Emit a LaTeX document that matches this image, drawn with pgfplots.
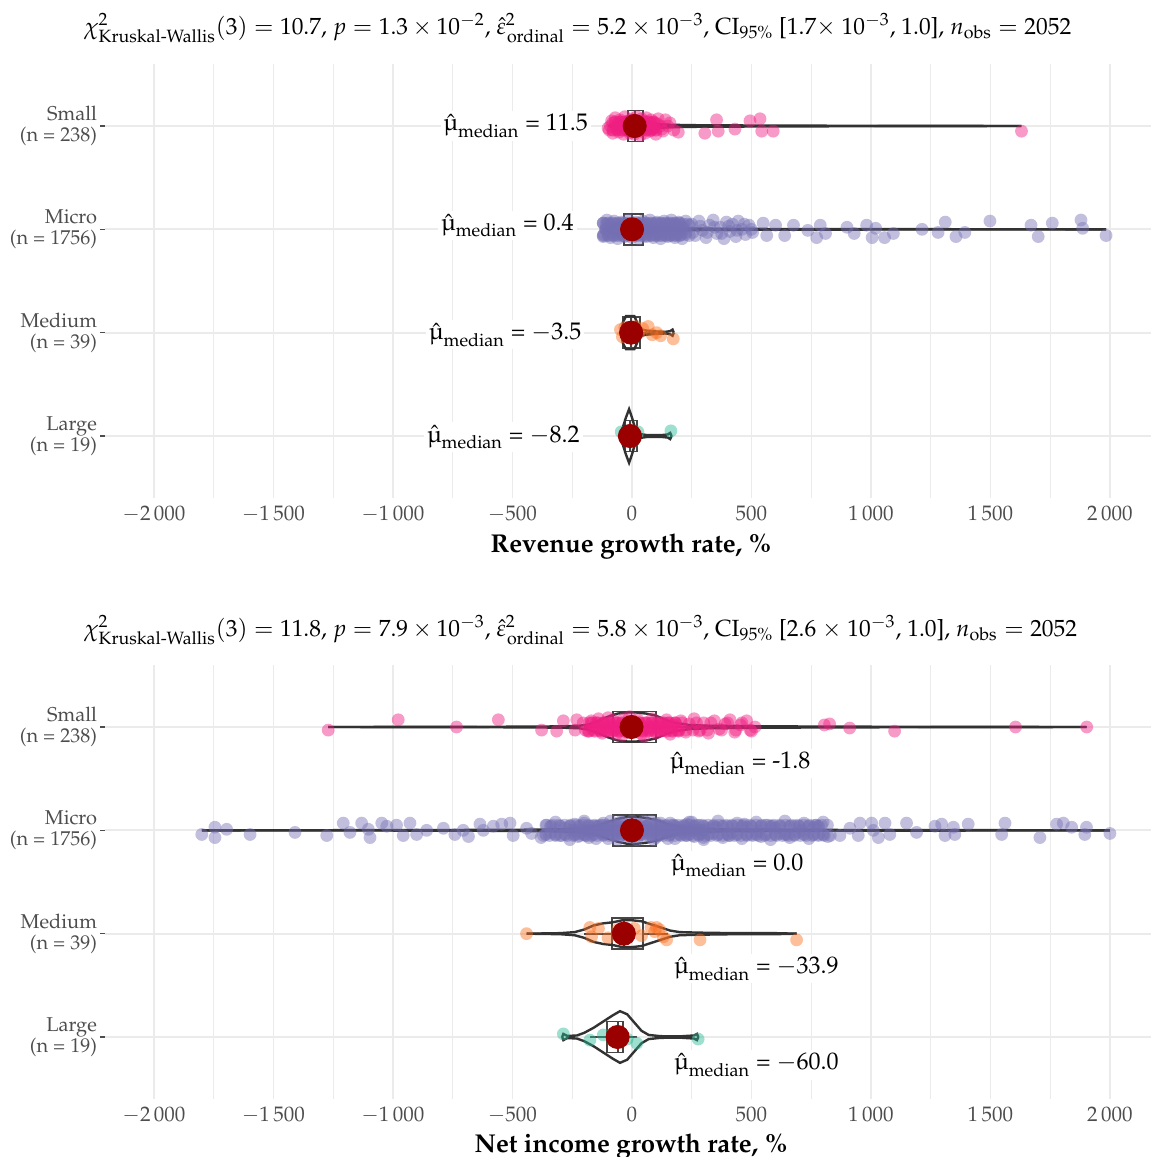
\documentclass[border=0pt]{standalone}
\usepackage[T1]{fontenc}
\usepackage{mathpazo}
\usepackage{amsmath}
\usepackage{textcomp}
\usepackage{pgfplots}
\usepackage{pgfplotstable}
\pgfplotsset{compat=1.18}
\usepgfplotslibrary{statistics}

\definecolor{cSmall}{RGB}{240,30,130}
\definecolor{cMicro}{RGB}{117,112,179}
\definecolor{cMedium}{RGB}{250,110,30}
\definecolor{cLarge}{RGB}{40,185,150}
\definecolor{dotred}{RGB}{155,0,0}
\definecolor{gridgray}{RGB}{235,235,235}
\definecolor{labgray}{RGB}{77,77,77}
\definecolor{vio}{RGB}{50,50,50}
\definecolor{boxc}{RGB}{70,70,70}

\newcommand{\mumed}{$\hat{\hbox{\textmu}}_{\mathrm{median}}$}

\tikzset{mlab/.style={fill=white, inner sep=1.5pt, font=\fontsize{12}{14}\selectfont}}

\pgfplotsset{
  panel/.style={
    scale only axis, width=523pt, height=217pt,
    xmin=-2205, xmax=2172, ymin=0.4, ymax=4.6,
    axis line style={draw=none},
    xtick={-2000,-1500,...,2000},
    minor xtick={-1750,-1250,...,1750},
    xmajorgrids, xminorgrids, ymajorgrids,
    major grid style={gridgray, line width=0.9pt},
    minor grid style={gridgray, line width=0.6pt},
    ytick={1,2,3,4},
    yticklabels={{Large\\(n = 19)},{Medium\\(n = 39)},{Micro\\(n = 1756)},{Small\\(n = 238)}},
    xtick style={draw=none},
    ytick style={labgray, line width=0.8pt},
    xtick pos=bottom, ytick pos=left,
    tick align=outside, major tick length=2.5pt,
    yticklabel style={align=right, text=labgray, xshift=2pt, font=\fontsize{10}{10.5}\selectfont},
    xticklabel style={text=labgray, yshift=2pt, font=\fontsize{10.5}{12}\selectfont},
    /pgf/number format/1000 sep={\,},
    clip=false,
  },
  pts/.style={only marks, mark=*, mark size=3.2pt, color=#1,
    mark options={solid, draw=#1, draw opacity=0, fill=#1, fill opacity=0.45}},
  core/.style={only marks, mark=*, mark size=3.2pt, color=#1,
    mark options={solid, draw=#1, draw opacity=0, fill=#1, fill opacity=0.6}},
  vln/.style={draw=vio, line width=1.2pt, no marks},
  bx/.style={boxplot/draw direction=x, boxplot/box extend=0.3,
    boxplot/whisker extend=0, draw=boxc, line width=0.9pt, solid},
  med/.style={only marks, mark=*, mark size=5.8pt, color=dotred,
    mark options={draw=dotred, fill=dotred}},
}

% violin half-widths (x, w)
\pgfplotstableread{
x w
-95 0
-80 0.01
-60 0.03
-40 0.06
-20 0.09
0 0.10
20 0.10
40 0.08
60 0.05
80 0.03
110 0.018
160 0.012
250 0.008
400 0.006
600 0.004
1000 0.002
1630 0
}\vTopSmall
\pgfplotstableread{
x w
-110 0
-90 0.02
-60 0.05
-30 0.07
0 0.07
30 0.05
60 0.03
100 0.015
200 0.008
500 0.004
1000 0.002
1984 0
}\vTopMicro
\pgfplotstableread{
x w
-45 0
-38 0.10
-25 0.16
10 0.16
25 0.08
40 0.03
60 0.02
100 0.012
140 0.008
160 0.015
170 0.03
175 0
}\vTopMedium
\pgfplotstableread{
x w
-55 0
-40 0.07
-25 0.18
-12 0.26
0 0.18
15 0.06
30 0.02
60 0.01
120 0.008
150 0.015
160 0.03
166 0
}\vTopLarge
\pgfplotstableread{
x w
-1271 0
-600 0.002
-300 0.006
-220 0.012
-180 0.025
-140 0.06
-100 0.10
-60 0.13
-20 0.14
20 0.14
60 0.13
100 0.11
140 0.07
180 0.04
240 0.02
320 0.012
500 0.008
800 0.004
1200 0.002
1903 0
}\vBotSmall
\pgfplotstableread{
x w
-1800 0
-1000 0.002
-500 0.005
-300 0.01
-200 0.02
-150 0.04
-100 0.08
-60 0.11
-20 0.13
20 0.13
60 0.12
100 0.10
150 0.06
200 0.03
270 0.015
400 0.008
800 0.004
1400 0.002
2000 0
}\vBotMicro
\pgfplotstableread{
x w
-441 0
-300 0.005
-240 0.015
-200 0.04
-160 0.08
-120 0.10
-80 0.11
-40 0.13
0 0.13
40 0.12
80 0.09
120 0.06
160 0.03
200 0.015
280 0.01
400 0.006
600 0.005
689 0
}\vBotMedium
\pgfplotstableread{
x w
-292 0
-287 0.03
-270 0.01
-230 0.015
-200 0.04
-160 0.09
-120 0.15
-80 0.21
-50 0.25
-20 0.22
10 0.14
40 0.06
70 0.02
120 0.008
200 0.006
260 0.015
272 0.03
278 0
}\vBotLarge

\begin{document}
\begin{tikzpicture}
% ---------------- top panel ----------------
\begin{axis}[panel, at={(0,0)}, anchor=north west]
\addplot[pts=cSmall] coordinates {
(-100,3.98)(-85,4.05)(-80,3.93)(-70,4.08)(-65,4.0)(-55,3.94)(-50,4.06)(-40,4.02)
(-35,3.92)(-30,4.09)(-20,3.97)(-15,4.05)(-10,3.93)(0,4.07)(5,4.0)(10,3.92)(15,4.04)
(20,4.09)(25,3.96)(30,4.02)(35,3.91)(40,4.07)(45,3.99)(50,4.05)(55,3.93)(60,4.08)
(70,4.0)(75,3.95)(80,4.06)(90,3.97)(95,4.03)(100,3.92)(110,4.07)(120,4.0)(130,3.95)
(140,4.06)(150,4.0)(159,4.03)(175,3.96)(194,3.94)
(-90,4.0)(-60,4.02)(-25,3.99)(0,3.96)(25,4.03)(55,4.0)(85,3.98)
(-95,3.96)(-80,4.03)(-62,3.97)(-45,4.04)(-28,3.96)(-12,4.03)(3,3.95)(18,4.02)(33,3.96)
(48,4.03)(63,3.97)(78,4.03)(93,3.98)(108,4.02)(125,3.97)(-50,3.99)(-20,4.01)(10,3.99)
(40,4.01)(70,3.99)
(305,3.93)(354,4.06)(361,3.95)(431,3.97)(494,4.05)(536,4.07)(543,3.95)(591,3.95)(1630,3.95)};
\addplot[core=cSmall] coordinates {
(-80,3.96)(-60,3.96)(-40,3.96)(-20,3.96)(0,3.96)(20,3.96)(40,3.96)(60,3.96)(80,3.96)(100,3.96)
(-70,4.04)(-50,4.04)(-30,4.04)(-10,4.04)(10,4.04)(30,4.04)(50,4.04)(70,4.04)(90,4.04)};
\addplot[pts=cMicro] coordinates {
(-120,2.93)(-120,3.06)(-105,2.99)(-105,3.09)(-90,2.92)(-90,3.03)(-75,2.97)(-75,3.08)
(-60,2.91)(-60,3.02)(-45,2.96)(-45,3.07)(-30,2.93)(-30,3.04)(-15,2.98)(-15,3.09)
(0,2.92)(0,3.03)(15,2.96)(15,3.07)(30,2.91)(30,3.02)(45,2.97)(45,3.08)
(60,2.93)(60,3.05)(75,2.98)(75,3.09)(90,2.92)(90,3.03)(105,2.96)(105,3.07)
(120,2.91)(120,3.02)(135,2.97)(135,3.08)(150,2.93)(150,3.05)(165,2.98)(165,3.09)
(180,2.92)(180,3.03)(195,2.96)(195,3.07)(210,2.91)(210,3.02)(225,2.97)(225,3.08)
(240,2.94)(240,3.04)
(-110,3.0)(-80,3.0)(-50,3.0)(-20,3.0)(10,3.0)(40,3.0)(70,3.0)(100,2.99)(130,3.01)
(160,3.0)(190,2.99)(220,3.0)
(-118,2.95)(-100,2.95)(-82,2.95)(-64,2.95)(-46,2.95)(-28,2.95)(-10,2.95)(8,2.95)(26,2.95)
(44,2.95)(62,2.95)(80,2.95)(98,2.95)(116,2.95)(134,2.95)(152,2.95)(170,2.95)(188,2.95)
(206,2.95)(224,2.95)
(-109,3.05)(-91,3.05)(-73,3.05)(-55,3.05)(-37,3.05)(-19,3.05)(-1,3.05)(17,3.05)(35,3.05)
(53,3.05)(71,3.05)(89,3.05)(107,3.05)(125,3.05)(143,3.05)(161,3.05)(179,3.05)(197,3.05)
(215,3.05)(233,3.05)
(-95,2.98)(-70,3.02)(-45,2.98)(-20,3.02)(5,2.98)(30,3.02)(55,2.98)(80,3.02)(105,2.98)
(250,3.05)(265,2.94)(280,3.08)(295,2.99)(310,2.92)(325,3.04)(340,3.09)(355,2.96)
(370,3.02)(385,2.91)(395,3.07)(410,2.98)(420,3.05)(435,2.93)(445,3.08)(460,3.0)
(475,2.95)(490,3.04)(505,2.97)
(255,2.97)(285,3.03)(315,2.97)(345,3.02)(375,2.96)(405,3.03)(440,2.99)(470,3.05)(500,3.0)
(549,3.06)(564,2.94)(601,3.04)(639,2.94)(676,3.04)(736,2.99)(773,2.92)(788,3.04)
(810,2.96)(900,3.02)(930,2.96)(982,3.04)(1005,2.92)(1020,3.01)(1057,2.92)(1094,2.96)
(1214,3.0)(1281,2.97)(1311,3.07)(1356,2.93)(1393,2.97)(1498,3.08)(1670,3.04)(1700,2.93)
(1759,3.06)(1879,3.09)(1886,3.01)(1984,2.94)};
\addplot[core=cMicro] coordinates {
(-120,2.94)(-100,2.94)(-80,2.94)(-60,2.94)(-40,2.94)(-20,2.94)(0,2.94)(20,2.94)(40,2.94)
(60,2.94)(80,2.94)(100,2.94)(120,2.94)(140,2.94)(160,2.94)(180,2.94)(200,2.94)
(-110,3.0)(-90,3.0)(-70,3.0)(-50,3.0)(-30,3.0)(-10,3.0)(10,3.0)(30,3.0)(50,3.0)(70,3.0)
(90,3.0)(110,3.0)(130,3.0)(150,3.0)(170,3.0)(190,3.0)(210,3.0)
(-120,3.06)(-100,3.06)(-80,3.06)(-60,3.06)(-40,3.06)(-20,3.06)(0,3.06)(20,3.06)(40,3.06)
(60,3.06)(80,3.06)(100,3.06)(120,3.06)(140,3.06)(160,3.06)(180,3.06)(200,3.06)};
\addplot[pts=cMedium] coordinates {
(-48,2.03)(-40,1.96)(-30,2.05)(-20,1.97)(-10,2.02)(5,1.95)(15,2.06)(30,2.0)(45,2.04)
(68,2.06)(85,1.98)(103,2.0)(120,1.97)(173,1.94)};
\addplot[pts=cLarge] coordinates {
(-45,1.04)(-20,0.97)(0,1.02)(10,0.96)(25,1.04)(163,1.05)};
% boxes
\addplot[bx, boxplot prepared={draw position=4, lower whisker=-100, lower quartile=-15,
  median=11.5, upper quartile=45, upper whisker=130}] coordinates {};
\addplot[bx, boxplot prepared={draw position=3, lower whisker=-120, lower quartile=-32,
  median=0.4, upper quartile=45, upper whisker=160}] coordinates {};
\addplot[bx, boxplot prepared={draw position=2, lower whisker=-48, lower quartile=-37,
  median=-3.5, upper quartile=33, upper whisker=120}] coordinates {};
\addplot[bx, boxplot prepared={draw position=1, lower whisker=-50, lower quartile=-30,
  median=-8.2, upper quartile=20, upper whisker=20}] coordinates {};
% violins
\addplot[vln] table[x=x, y expr=4+\thisrow{w}] {\vTopSmall};
\addplot[vln] table[x=x, y expr=4-\thisrow{w}] {\vTopSmall};
\addplot[vln] table[x=x, y expr=3+\thisrow{w}] {\vTopMicro};
\addplot[vln] table[x=x, y expr=3-\thisrow{w}] {\vTopMicro};
\addplot[vln] table[x=x, y expr=2+\thisrow{w}] {\vTopMedium};
\addplot[vln] table[x=x, y expr=2-\thisrow{w}] {\vTopMedium};
\addplot[vln] table[x=x, y expr=1+\thisrow{w}] {\vTopLarge};
\addplot[vln] table[x=x, y expr=1-\thisrow{w}] {\vTopLarge};
% medians
\addplot[med] coordinates {(11.5,4)(0.4,3)(-3.5,2)(-8.2,1)};
\node[mlab, anchor=east] at (axis cs:-170,4) {\mumed\ = 11.5};
\node[mlab, anchor=east] at (axis cs:-230,3.04) {\mumed\ = 0.4};
\node[mlab, anchor=east] at (axis cs:-197,1.98) {\mumed\ = $-$3.5};
\node[mlab, anchor=east] at (axis cs:-205,0.99) {\mumed\ = $-$8.2};
\node[anchor=west, font=\fontsize{11.7}{14}\selectfont] at (rel axis cs:0,1) [xshift=-14pt, yshift=18pt]
  {$\chi^2_{\text{Kruskal-Wallis}}(3) = 10.7$, $p = 1.3\times10^{-2}$, $\hat{\varepsilon}^2_{\mathrm{ordinal}} = 5.2\times10^{-3}$, CI$_{95\%}$ [1.7$\times$ 10$^{-3}$, 1.0], $n_{\mathrm{obs}} = 2052$};
\node[font=\fontsize{12.9}{14}\bfseries] at (rel axis cs:0.503,0) [yshift=-24pt] {Revenue growth rate, \%};
\end{axis}

% ---------------- bottom panel ----------------
\begin{axis}[panel, at={(0,-300.5pt)}, anchor=north west]
\addplot[pts=cSmall] coordinates {
(-1271,3.97)(-978,4.07)(-734,4.0)(-559,4.07)(-378,3.97)(-315,3.96)(-287,4.06)(-238,3.97)(-231,4.07)
(-204,4.04)(-185,3.96)(-170,4.06)(-150,3.99)(-140,4.08)(-125,3.94)(-110,4.04)(-95,3.97)
(-80,4.07)(-65,3.93)(-50,4.02)(-35,4.08)(-20,3.95)(-5,4.04)(10,3.97)(25,4.07)(40,3.93)
(55,4.03)(70,3.98)(85,4.08)(100,3.94)(115,4.04)(130,3.97)(145,4.07)(160,3.93)(175,4.02)
(190,3.97)(205,4.06)(225,3.95)(240,4.03)(260,4.08)(280,3.96)(300,4.04)(320,3.94)(345,4.06)
(365,3.98)(390,4.03)(410,4.07)(430,3.95)(455,4.02)(480,4.06)(500,3.96)(515,4.0)
(-130,4.0)(-100,4.09)(-70,3.98)(-40,3.92)(-10,4.1)(20,4.0)(50,3.91)(80,4.0)(110,3.99)(140,4.0)
(-195,3.97)(-165,3.97)(-135,3.97)(-105,3.97)(-75,3.97)(-45,3.97)(-15,3.97)(15,3.97)(45,3.97)
(75,3.97)(105,3.97)(135,3.97)(165,3.97)(195,3.97)(225,3.97)(255,3.97)(285,3.97)(315,3.97)
(375,3.97)(435,3.97)(495,3.97)
(-180,4.04)(-150,4.04)(-120,4.04)(-90,4.04)(-60,4.04)(-30,4.04)(0,4.04)(30,4.04)(60,4.04)
(90,4.04)(120,4.04)(150,4.04)(180,4.04)(210,4.04)(270,4.04)(330,4.04)(400,4.04)(460,4.04)
(-105,4.0)(-75,4.0)(-45,4.0)(-15,4.0)(15,4.0)(45,4.0)(75,4.0)(105,4.0)(135,4.0)
(805,4.02)(827,4.03)(911,3.99)(1099,3.96)(1605,4.0)(1903,4.0)};
\addplot[core=cSmall] coordinates {
(-180,3.96)(-155,3.96)(-130,3.96)(-105,3.96)(-80,3.96)(-55,3.96)(-30,3.96)(-5,3.96)(20,3.96)
(45,3.96)(70,3.96)(95,3.96)(120,3.96)(145,3.96)(170,3.96)(195,3.96)
(-168,4.04)(-143,4.04)(-118,4.04)(-93,4.04)(-68,4.04)(-43,4.04)(-18,4.04)(7,4.04)(32,4.04)
(57,4.04)(82,4.04)(107,4.04)(132,4.04)(157,4.04)(182,4.04)};
\addplot[pts=cMicro] coordinates {
(-1800,2.96)(-1745,3.03)(-1745,2.93)(-1696,3.01)(-1598,2.96)(-1410,2.98)(-1277,2.95)
(-1208,3.07)(-1180,2.98)(-1131,3.07)(-1103,3.01)(-1096,2.93)(-1047,3.07)(-1026,3.04)
(-985,3.05)(-957,2.95)(-929,3.07)(-901,2.96)(-859,3.0)(-789,3.02)(-741,2.96)(-706,3.0)
(-684,2.94)(-636,3.06)(-622,3.0)(-580,3.04)(-545,3.06)(-510,3.07)(-497,2.95)(-441,3.02)(-420,2.97)
(-380,2.93)(-360,3.05)(-340,2.98)(-320,3.08)(-300,2.95)(-280,3.02)(-260,2.91)(-240,3.06)
(-220,2.97)(-200,3.09)(-180,2.93)(-160,3.04)(-140,2.99)(-120,3.07)(-100,2.92)(-80,3.03)
(-60,2.96)(-40,3.08)(-20,2.94)(0,3.05)(20,2.91)(40,3.02)(60,2.97)(80,3.09)
(100,2.93)(120,3.04)(140,2.98)(160,3.07)(180,2.92)(200,3.03)(220,2.96)(240,3.08)
(260,2.94)(280,3.05)(300,2.91)(320,3.02)(340,2.97)(360,3.09)(380,2.93)(400,3.04)
(420,2.98)(440,3.07)(460,2.92)(480,3.03)(500,2.96)(520,3.08)(540,2.94)(560,3.05)
(580,2.91)(600,3.02)(620,2.97)(640,3.09)(660,2.93)(680,3.04)(700,2.98)(720,3.07)
(740,2.92)(760,3.03)(780,2.96)(800,3.08)(820,2.94)
(-250,3.0)(-225,2.94)(-200,3.07)(-175,2.99)(-150,2.92)(-125,3.05)(-100,3.0)(-75,2.95)
(-50,3.08)(-25,3.0)(0,2.93)(25,3.06)(50,3.0)(75,2.94)(100,3.07)(125,2.99)(150,2.92)
(175,3.05)(200,3.0)(225,2.95)(250,3.08)(275,3.0)(300,2.93)
(-150,3.04)(-120,2.97)(-90,3.09)(-60,2.91)(-30,3.02)(0,3.09)(30,2.96)(60,3.04)(90,2.91)
(120,3.07)(150,2.98)
(-190,2.95)(-130,3.0)(-70,3.05)(-10,2.96)(50,3.09)(110,2.95)(170,3.01)(230,3.06)(290,2.97)
(350,3.03)(410,2.95)(470,3.06)(530,2.99)(590,3.04)(650,2.96)(710,3.0)(770,3.05)
(-370,2.95)(-345,2.95)(-320,2.95)(-295,2.95)(-270,2.95)(-245,2.95)(-220,2.95)(-195,2.95)
(-170,2.95)(-145,2.95)(-120,2.95)(-95,2.95)(-70,2.95)(-45,2.95)(-20,2.95)(5,2.95)(30,2.95)
(55,2.95)(80,2.95)(105,2.95)(130,2.95)(155,2.95)(180,2.95)(205,2.95)(230,2.95)(255,2.95)
(280,2.95)(305,2.95)(330,2.95)(355,2.95)(380,2.95)(405,2.95)(430,2.95)(455,2.95)(480,2.95)
(505,2.95)(530,2.95)(555,2.95)(580,2.95)(605,2.95)(630,2.95)(655,2.95)(680,2.95)(705,2.95)
(730,2.95)(755,2.95)(780,2.95)(805,2.95)(830,2.95)
(-357,3.05)(-332,3.05)(-307,3.05)(-282,3.05)(-257,3.05)(-232,3.05)(-207,3.05)(-182,3.05)
(-157,3.05)(-132,3.05)(-107,3.05)(-82,3.05)(-57,3.05)(-32,3.05)(-7,3.05)(18,3.05)(43,3.05)
(68,3.05)(93,3.05)(118,3.05)(143,3.05)(168,3.05)(193,3.05)(218,3.05)(243,3.05)(268,3.05)
(293,3.05)(318,3.05)(343,3.05)(368,3.05)(393,3.05)(418,3.05)(443,3.05)(468,3.05)(493,3.05)
(518,3.05)(543,3.05)(568,3.05)(593,3.05)(618,3.05)(643,3.05)(668,3.05)(693,3.05)(718,3.05)
(743,3.05)(768,3.05)(793,3.05)(818,3.05)
(-238,3.0)(-213,3.0)(-188,3.0)(-163,3.0)(-138,3.0)(-113,3.0)(-88,3.0)(-63,3.0)(-38,3.0)
(-13,3.0)(12,3.0)(37,3.0)(62,3.0)(87,3.0)(112,3.0)(137,3.0)(162,3.0)(187,3.0)(212,3.0)
(237,3.0)(262,3.0)(287,3.0)
(870,2.95)(912,3.02)(947,2.95)(954,3.07)(1003,3.07)(1010,3.0)(1031,2.93)(1059,3.07)
(1079,2.96)(1149,3.07)(1191,2.98)(1268,3.04)(1296,3.06)(1310,2.95)(1345,3.03)(1351,2.96)
(1407,3.06)(1561,3.07)(1547,2.96)(1707,2.93)(1777,3.06)(1805,3.07)(1840,3.03)(1895,2.96)
(1902,3.03)(2000,2.97)};
\addplot[core=cMicro] coordinates {
(-360,2.96)(-320,2.96)(-280,2.96)(-240,2.96)(-200,2.96)(-160,2.96)(-120,2.96)(-80,2.96)
(-40,2.96)(0,2.96)(40,2.96)(80,2.96)(120,2.96)(160,2.96)(200,2.96)(240,2.96)(280,2.96)
(320,2.96)(360,2.96)(400,2.96)(440,2.96)(480,2.96)(520,2.96)(560,2.96)(600,2.96)(640,2.96)
(680,2.96)(720,2.96)(760,2.96)(800,2.96)
(-340,3.04)(-300,3.04)(-260,3.04)(-220,3.04)(-180,3.04)(-140,3.04)(-100,3.04)(-60,3.04)
(-20,3.04)(20,3.04)(60,3.04)(100,3.04)(140,3.04)(180,3.04)(220,3.04)(260,3.04)(300,3.04)
(340,3.04)(380,3.04)(420,3.04)(460,3.04)(500,3.04)(540,3.04)(580,3.04)(620,3.04)(660,3.04)
(700,3.04)(740,3.04)(780,3.04)
(-200,3.0)(-175,3.0)(-150,3.0)(-125,3.0)(-100,3.0)(-75,3.0)(-50,3.0)(-25,3.0)(0,3.0)
(25,3.0)(50,3.0)(75,3.0)(100,3.0)(125,3.0)(150,3.0)(175,3.0)(200,3.0)(225,3.0)(250,3.0)
(275,3.0)(300,3.0)};
\addplot[pts=cMedium] coordinates {
(-441,2.0)(-176,2.06)(-169,1.97)(-140,2.05)(-100,1.96)(-60,2.04)(-20,1.97)(10,2.05)
(40,1.98)(80,2.06)(95,2.02)(103,2.06)(115,2.04)(131,1.97)(145,1.94)(285,1.94)(689,1.94)};
\addplot[pts=cLarge] coordinates {
(-287,1.03)(-176,0.97)(-120,1.02)(-80,0.97)(-50,1.04)(-20,0.98)(20,0.94)(277,0.98)};
% boxes
\addplot[bx, boxplot prepared={draw position=4, lower whisker=-200, lower quartile=-78,
  median=-1.8, upper quartile=100, upper whisker=320}] coordinates {};
\addplot[bx, boxplot prepared={draw position=3, lower whisker=-330, lower quartile=-78,
  median=0.0, upper quartile=100, upper whisker=370}] coordinates {};
\addplot[bx, boxplot prepared={draw position=2, lower whisker=-200, lower quartile=-85,
  median=-33.9, upper quartile=47, upper whisker=150}] coordinates {};
\addplot[bx, boxplot prepared={draw position=1, lower whisker=-176, lower quartile=-106,
  median=-60, upper quartile=-36, upper whisker=20}] coordinates {};
% violins
\addplot[vln] table[x=x, y expr=4+\thisrow{w}] {\vBotSmall};
\addplot[vln] table[x=x, y expr=4-\thisrow{w}] {\vBotSmall};
\addplot[vln] table[x=x, y expr=3+\thisrow{w}] {\vBotMicro};
\addplot[vln] table[x=x, y expr=3-\thisrow{w}] {\vBotMicro};
\addplot[vln] table[x=x, y expr=2+\thisrow{w}] {\vBotMedium};
\addplot[vln] table[x=x, y expr=2-\thisrow{w}] {\vBotMedium};
\addplot[vln] table[x=x, y expr=1+\thisrow{w}] {\vBotLarge};
\addplot[vln] table[x=x, y expr=1-\thisrow{w}] {\vBotLarge};
% medians
\addplot[med] coordinates {(-1.8,4)(0.0,3)(-33.9,2)(-60.0,1)};
\node[mlab, anchor=west] at (axis cs:146,3.65) {\mumed\ = -1.8};
\node[mlab, anchor=west] at (axis cs:150,2.66) {\mumed\ = 0.0};
\node[mlab, anchor=west] at (axis cs:163,1.66) {\mumed\ = $-$33.9};
\node[mlab, anchor=west] at (axis cs:163,0.73) {\mumed\ = $-$60.0};
\node[anchor=west, font=\fontsize{11.7}{14}\selectfont] at (rel axis cs:0,1) [xshift=-14pt, yshift=17.5pt]
  {$\chi^2_{\text{Kruskal-Wallis}}(3) = 11.8$, $p = 7.9\times10^{-3}$, $\hat{\varepsilon}^2_{\mathrm{ordinal}} = 5.8\times10^{-3}$, CI$_{95\%}$ [2.6 $\times$ 10$^{-3}$, 1.0], $n_{\mathrm{obs}} = 2052$};
\node[font=\fontsize{12.9}{14}\bfseries] at (rel axis cs:0.503,0) [yshift=-23.5pt] {Net income growth rate, \%};
\end{axis}
\pgfresetboundingbox
\path[use as bounding box] (-52.5pt,32pt) rectangle (523pt,-546.5pt);
\end{tikzpicture}
\end{document}
